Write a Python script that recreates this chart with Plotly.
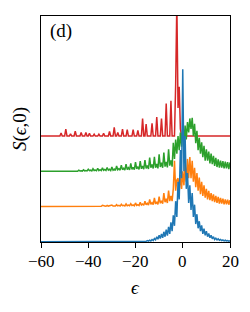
import plotly.graph_objects as go

STEP = 0.5
EPS_MIN, EPS_MAX = -60.0, 20.0

# Red curve (top, offset 3): isolated peaks (eps, height)
red_peak_eps = [-51.5, -49.5, -47.5, -45.5, -43.0, -41.0, -39.5, -37.5, -35.5, -33.5,
                -31.0, -29.0, -27.5, -25.5, -23.5, -21.0, -19.0, -17.0, -15.5, -13.0,
                -11.0, -9.0, -7.0, -5.0, -3.0, -2.5, -2.0, -1.5, -1.0]
red_peak_S = [0.085, 0.2, 0.065, 0.14, 0.1, 0.1, 0.075, 0.055, 0.055, 0.075,
              0.13, 0.245, 0.1, 0.2, 0.18, 0.18, 0.16, 0.5, 0.34, 0.36,
              0.54, 0.5, 0.92, 1.0, 1.46, 3.8, 0.8, 1.4, 0.2]

# Green curve (offset 2): values every 0.5 from green_start to 20
green_start = -46.0
green_S = [
    0.02, 0.0, 0.01, 0.0, 0.03, 0.01, 0.015, 0.005,
    0.04, 0.01, 0.02, 0.01, 0.055, 0.015, 0.03, 0.01,
    0.07, 0.02, 0.035, 0.015, 0.085, 0.02, 0.045, 0.02,
    0.095, 0.025, 0.05, 0.02, 0.105, 0.03, 0.055, 0.02,
    0.12, 0.03, 0.06, 0.025, 0.15, 0.04, 0.075, 0.03,
    0.17, 0.045, 0.085, 0.035, 0.2, 0.05, 0.1, 0.04,
    0.22, 0.055, 0.11, 0.045, 0.26, 0.065, 0.13, 0.05,
    0.29, 0.07, 0.145, 0.06, 0.32, 0.08, 0.16, 0.065,
    0.39, 0.1, 0.195, 0.08, 0.41, 0.1, 0.205, 0.08,
    0.48, 0.12, 0.24, 0.1, 0.53, 0.13, 0.265, 0.11,
    0.62, 0.16, 0.31, 0.13,
    0.81, 0.35, 0.9, 0.5, 1.0, 0.6, 1.1, 0.7, 1.2, 0.8,
    1.3, 0.9, 1.4, 1.1, 1.5, 1.2, 1.52, 1.0, 1.35, 0.8,
    1.15, 0.6, 0.95, 0.5, 0.82, 0.4, 0.72, 0.3, 0.62, 0.3,
    0.56, 0.22, 0.5, 0.2, 0.44, 0.15, 0.38, 0.12, 0.34, 0.1,
    0.3, 0.1, 0.29, 0.08, 0.27, 0.08, 0.26, 0.06, 0.25,
]

# Orange curve (offset 1)
orange_start = -36.0
orange_S = [
    0.02, 0.005, 0.01, 0.005, 0.03, 0.01, 0.015, 0.005,
    0.03, 0.01, 0.02, 0.01, 0.04, 0.01, 0.02, 0.01,
    0.05, 0.015, 0.03, 0.01, 0.06, 0.02, 0.03, 0.015,
    0.07, 0.02, 0.04, 0.02, 0.08, 0.025, 0.045, 0.02,
    0.1, 0.03, 0.05, 0.025, 0.12, 0.04, 0.07, 0.03,
    0.15, 0.05, 0.09, 0.04, 0.2, 0.06, 0.11, 0.05,
    0.24, 0.07, 0.13, 0.06, 0.28, 0.09, 0.16, 0.08,
    0.38, 0.12, 0.22, 0.1, 0.45, 0.15, 0.3, 0.15,
    0.5, 1.3, 0.45, 0.75, 0.8, 0.45, 0.9, 0.5, 1.0, 0.6,
    1.2, 0.7, 1.35, 0.8, 1.4, 0.8, 1.3, 0.7, 1.1, 0.55,
    0.95, 0.45, 0.82, 0.35, 0.7, 0.3, 0.6, 0.25, 0.5, 0.2,
    0.44, 0.18, 0.38, 0.15, 0.34, 0.12, 0.3, 0.1, 0.27, 0.08,
    0.24, 0.08, 0.22, 0.06, 0.2, 0.06, 0.19, 0.05, 0.18,
]

# Blue curve (offset 0)
blue_start = -16.0
blue_S = [
    0.02, 0.01, 0.03, 0.015, 0.04, 0.02, 0.06, 0.03, 0.09, 0.05,
    0.14, 0.07, 0.18, 0.09, 0.22, 0.11, 0.28, 0.14, 0.34, 0.17,
    0.42, 0.22, 0.55, 0.3, 0.75, 0.45, 1.15, 0.7, 1.7, 1.2,
    2.6, 1.8, 4.9, 2.0, 3.0, 1.5, 1.95, 1.1, 1.6, 0.9,
    1.38, 0.7, 1.05, 0.5, 0.78, 0.38, 0.58, 0.3, 0.46, 0.22,
    0.37, 0.18, 0.3, 0.14, 0.23, 0.11, 0.18, 0.08, 0.14, 0.06,
    0.1, 0.05, 0.08, 0.04, 0.06, 0.03, 0.05, 0.02, 0.04, 0.02,
    0.03, 0.015, 0.03,
]

offsets = {"red": 3, "green": 2, "orange": 1, "blue": 0}
colors = {"red": "#d62728", "green": "#2ca02c", "orange": "#ff7f0e", "blue": "#1f77b4"}
x_ticks = [-60, -40, -20, 0, 20]
x_tick_text = ["\u221260", "\u221240", "\u221220", "0", "20"]

n = int(round((EPS_MAX - EPS_MIN) / STEP)) + 1
grid = [EPS_MIN + STEP * i for i in range(n)]


def idx(e):
    return int(round((e - EPS_MIN) / STEP))


def from_peaks(pe, ps):
    y = [0.0] * n
    for e, s in zip(pe, ps):
        y[idx(e)] = s
    return y


def from_segment(start, vals):
    y = [0.0] * n
    i0 = idx(start)
    for k, v in enumerate(vals):
        if i0 + k < n:
            y[i0 + k] = v
    return y


series = {
    "red": from_peaks(red_peak_eps, red_peak_S),
    "green": from_segment(green_start, green_S),
    "orange": from_segment(orange_start, orange_S),
    "blue": from_segment(blue_start, blue_S),
}

fig = go.Figure()
for name in ["red", "green", "orange", "blue"]:
    fig.add_trace(go.Scatter(
        x=grid, y=[v + offsets[name] for v in series[name]],
        mode="lines", line=dict(color=colors[name], width=1.5),
        showlegend=False, hoverinfo="skip",
    ))

FONT = "Liberation Serif"
annotations = [
    dict(text="(d)", xref="paper", yref="paper", x=0.035, y=0.99,
         xanchor="left", yanchor="top", showarrow=False,
         font=dict(family=FONT, size=19)),
    dict(text="<i>S</i>(<i>\u03f5</i>,0)", xref="paper", yref="paper",
         x=0, y=0.5, xshift=-21, textangle=-90, showarrow=False,
         xanchor="center", yanchor="middle", font=dict(family=FONT, size=19)),
    dict(text="<i>\u03f5</i>", xref="paper", yref="paper", x=0.5, y=0,
         yshift=-45, showarrow=False, xanchor="center", yanchor="middle",
         font=dict(family=FONT, size=19)),
]
for tv, tt in zip(x_ticks, x_tick_text):
    annotations.append(dict(text=tt, xref="x", yref="paper", x=tv, y=0,
                            yshift=-19, showarrow=False, xanchor="center",
                            yanchor="middle", font=dict(family=FONT, size=17)))

fig.update_layout(
    width=242, height=304,
    margin=dict(l=33, r=20, t=8, b=70),
    paper_bgcolor="white", plot_bgcolor="white",
    font=dict(family=FONT, size=17, color="black"),
    xaxis=dict(range=[EPS_MIN, EPS_MAX], tickvals=x_ticks, showticklabels=False,
               ticks="outside", ticklen=5, tickwidth=1.2, tickcolor="black",
               showline=True, linecolor="black", linewidth=1.2, mirror=True,
               showgrid=False, zeroline=False),
    yaxis=dict(range=[-0.01, 6.41], showticklabels=False, ticks="",
               showline=True, linecolor="black", linewidth=1.2, mirror=True,
               showgrid=False, zeroline=False),
    annotations=annotations,
)

fig.write_html("out.html")
